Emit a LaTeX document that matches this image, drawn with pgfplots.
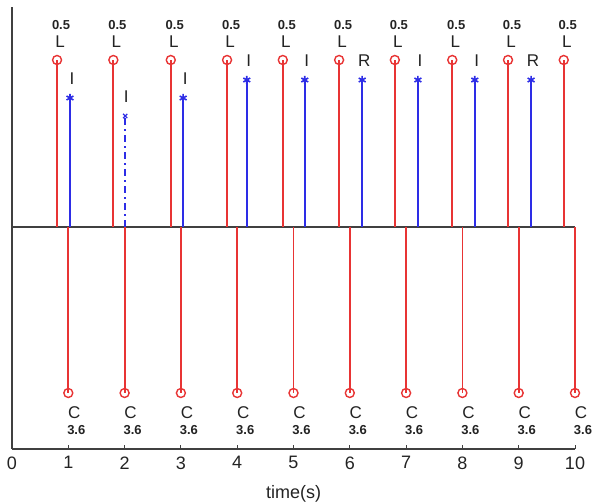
\documentclass[border=0pt]{standalone}
\usepackage{pgfplots}
\pgfplotsset{compat=1.18}
\usepackage{pgfplotstable}
\usepackage{fontspec}
\setmainfont{Liberation Sans}

\definecolor{stemred}{RGB}{232,52,52}
\definecolor{stemblue}{RGB}{45,45,230}
\definecolor{txt}{RGB}{35,35,35}

% red stems pointing up (L, 0.5)
\pgfplotstableread{
x y
0.80 167
1.80 167
2.82 167
3.82 167
4.81 167
5.81 167
6.80 167
7.82 167
8.81 167
9.80 167
}\redup

% blue stems (solid)
\pgfplotstableread{
x y lab
1.03 129 I
3.04 129 I
4.17 147 I
5.20 147 I
6.22 147 R
7.21 147 I
8.22 147 I
9.22 147 R
}\blueup

% blue stem (dash-dot)
\pgfplotstableread{
x y lab
2.01 111 I
}\bluedash

% red stems pointing down (C, 3.6)
\pgfplotstableread{
x y
1 -166
2 -166
3 -166
4 -166
5 -166
6 -166
7 -166
8 -166
9 -166
10 -166
}\reddown

\begin{document}
\begin{tikzpicture}
\begin{axis}[
  scale only axis, width=563pt, height=442pt,
  xmin=0, xmax=10, ymin=-222, ymax=220,
  axis x line*=bottom, axis y line*=left,
  axis line style={black!75, line width=1.2pt},
  xtick={0,...,10}, ytick=\empty,
  tick align=inside, major tick length=4pt,
  tick style={black!75, line width=1pt},
  ticklabel style={font=\fontsize{18}{20}\selectfont, text=txt, yshift=-4pt},
  /pgf/number format/assume math mode=true,
  xlabel={time(s)},
  xlabel style={font=\fontsize{18}{20}\selectfont, text=txt, yshift=-9pt},
  clip=false,
]
\coordinate (sw) at (rel axis cs:0,0);

\addplot[black!75, line width=1.2pt] coordinates {(0,0) (10,0)};

\addplot[ycomb, stemred, line width=1.8pt, mark=o, mark size=4.5pt,
  mark options={line width=1.4pt}] table {\redup};
\addplot[ycomb, stemred, line width=1.8pt, mark=o, mark size=4.5pt,
  mark options={line width=1.4pt}] table {\reddown};
\addplot[ycomb, stemblue, line width=1.8pt, mark=asterisk, mark size=4pt,
  mark options={line width=1.6pt}] table {\blueup};
\addplot[ycomb, stemblue, line width=1.8pt,
  dash pattern=on 7pt off 4pt on 2pt off 4pt, mark=x, mark size=3pt,
  mark options={solid, line width=1.2pt}] table {\bluedash};

% labels
\addplot[draw=none, mark=none, nodes near coords={L},
  every node near coord/.style={anchor=center, xshift=3pt, yshift=18pt,
    text=txt, font=\fontsize{17}{18}\selectfont}] table {\redup};
\addplot[draw=none, mark=none, nodes near coords={0.5},
  every node near coord/.style={anchor=center, xshift=4pt, yshift=35pt,
    text=txt, font=\bfseries\fontsize{13}{15}\selectfont}] table {\redup};
\addplot[draw=none, mark=none, nodes near coords, point meta=explicit symbolic,
  every node near coord/.style={anchor=center, xshift=2pt, yshift=19pt,
    text=txt, font=\fontsize{17}{18}\selectfont}] table[meta=lab] {\blueup};
\addplot[draw=none, mark=none, nodes near coords, point meta=explicit symbolic,
  every node near coord/.style={anchor=center, xshift=1pt, yshift=19pt,
    text=txt, font=\fontsize{17}{18}\selectfont}] table[meta=lab] {\bluedash};
\addplot[draw=none, mark=none, nodes near coords={C},
  every node near coord/.style={anchor=center, xshift=6pt, yshift=-20pt,
    text=txt, font=\fontsize{17}{18}\selectfont}] table {\reddown};
\addplot[draw=none, mark=none, nodes near coords={3.6},
  every node near coord/.style={anchor=center, xshift=8pt, yshift=-37pt,
    text=txt, font=\bfseries\fontsize{13}{15}\selectfont}] table {\reddown};
\end{axis}
\pgfresetboundingbox
\path (sw) ++(-12pt,-53pt) rectangle ++(594pt,502pt);
\end{tikzpicture}
\end{document}
